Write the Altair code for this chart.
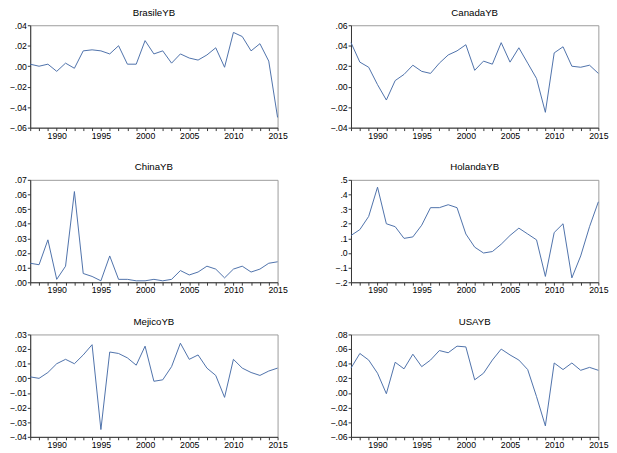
import altair as alt
import pandas as pd

years = list(range(1987, 2016))

brasil = [0.002, 0.000, 0.002, -0.005, 0.003, -0.002, 0.015, 0.016, 0.015, 0.012,
          0.020, 0.002, 0.002, 0.025, 0.012, 0.015, 0.003, 0.012, 0.008, 0.006,
          0.011, 0.018, -0.001, 0.033, 0.029, 0.015, 0.022, 0.005, -0.050]
canada = [0.043, 0.024, 0.019, 0.002, -0.013, 0.006, 0.012, 0.021, 0.015, 0.013,
          0.023, 0.031, 0.035, 0.041, 0.016, 0.025, 0.022, 0.043, 0.024, 0.038,
          0.023, 0.008, -0.025, 0.033, 0.039, 0.020, 0.019, 0.021, 0.013]
china = [0.013, 0.012, 0.029, 0.002, 0.011, 0.062, 0.006, 0.004, 0.001, 0.018,
         0.002, 0.002, 0.001, 0.001, 0.002, 0.001, 0.002, 0.008, 0.005, 0.007,
         0.011, 0.009, 0.003, 0.009, 0.011, 0.007, 0.009, 0.013, 0.014]
holanda = [0.12, 0.16, 0.25, 0.45, 0.20, 0.18, 0.10, 0.11, 0.19, 0.31,
           0.31, 0.33, 0.31, 0.13, 0.04, 0.00, 0.01, 0.06, 0.12, 0.17,
           0.13, 0.09, -0.16, 0.14, 0.20, -0.17, -0.02, 0.18, 0.35]
mejico = [0.001, 0.000, 0.004, 0.010, 0.013, 0.010, 0.016, 0.023, -0.035, 0.018,
          0.017, 0.014, 0.009, 0.022, -0.002, -0.001, 0.008, 0.024, 0.013, 0.016,
          0.007, 0.002, -0.013, 0.013, 0.007, 0.004, 0.002, 0.005, 0.007]
usa = [0.034, 0.054, 0.045, 0.027, -0.001, 0.042, 0.033, 0.053, 0.036, 0.045,
       0.058, 0.055, 0.064, 0.063, 0.018, 0.027, 0.045, 0.060, 0.052, 0.045,
       0.032, -0.005, -0.045, 0.041, 0.032, 0.041, 0.031, 0.035, 0.031]

panels = [
    ("BrasileYB", brasil, [-0.06, 0.04], [-0.06, -0.04, -0.02, 0.0, 0.02, 0.04], 2),
    ("CanadaYB", canada, [-0.04, 0.06], [-0.04, -0.02, 0.0, 0.02, 0.04, 0.06], 2),
    ("ChinaYB", china, [0.0, 0.07], [0.0, 0.01, 0.02, 0.03, 0.04, 0.05, 0.06, 0.07], 2),
    ("HolandaYB", holanda, [-0.2, 0.5], [-0.2, -0.1, 0.0, 0.1, 0.2, 0.3, 0.4, 0.5], 1),
    ("MejicoYB", mejico, [-0.04, 0.03], [-0.04, -0.03, -0.02, -0.01, 0.0, 0.01, 0.02, 0.03], 2),
    ("USAYB", usa, [-0.06, 0.08], [-0.06, -0.04, -0.02, 0.0, 0.02, 0.04, 0.06, 0.08], 2),
]

charts = []
for name, vals, dom, ticks, dec in panels:
    df = pd.DataFrame({"year": years, "value": vals})
    c = alt.Chart(df).mark_line(color="#4a6ea8", strokeWidth=1).encode(
        x=alt.X("year:Q", title=None,
                scale=alt.Scale(domain=[1987, 2015], nice=False, zero=False),
                axis=alt.Axis(values=years, labelFlush=False, labelOverlap=False, grid=False,
                              labelExpr="datum.value % 5 == 0 ? format(datum.value, 'd') : ''")),
        y=alt.Y("value:Q", title=None,
                scale=alt.Scale(domain=dom, nice=False, zero=False),
                axis=alt.Axis(values=ticks, grid=False,
                              labelExpr=f"replace(format(datum.value, '.{dec}f'), '0.', '.')")),
    ).properties(
        width=256, height=106,
        title=alt.TitleParams(text=name, fontSize=10, fontWeight="normal",
                              font="Liberation Sans", color="#000000", offset=4),
    )
    charts.append(c)

chart = alt.concat(*charts, columns=2, spacing={"row": 21, "column": 42}).properties(
    padding={"top": -9, "left": 0, "right": 0, "bottom": 0}
).configure_view(
    stroke="#999999", strokeWidth=1
).configure_axis(
    grid=False, domainColor="#333333", domainWidth=1, tickColor="#333333",
    tickSize=3, labelFontSize=9, labelFont="Liberation Sans", labelColor="#000000",
    labelPadding=1
).configure_title(
    fontSize=10, fontWeight="normal", font="Liberation Sans", color="#000000", offset=4
)

chart.save("out.html", embed_options={"renderer": "svg", "actions": False})
